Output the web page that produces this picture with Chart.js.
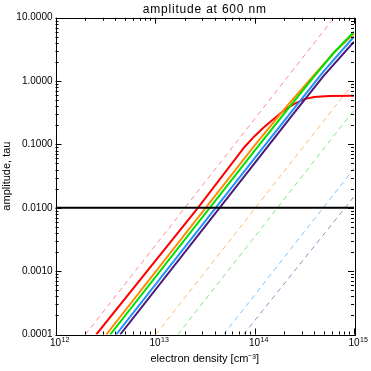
<!DOCTYPE html>
<html>
<head>
<meta charset="utf-8">
<title>amplitude at 600 nm</title>
<script src="https://cdn.jsdelivr.net/npm/chart.js@4"></script>
<style>
    html, body { margin: 0; padding: 0; background: #fff; }
    #wrap { width: 371px; height: 371px; position: relative; }
</style>
</head>
<body>
<div id="wrap"><canvas id="ampChart"></canvas></div>
<script>
    // values: electron density [cm^-3] and amplitude tau
    const redN      = [2.57e12, 2.7e13, 7.94e13, 1e14, 1.26e14, 1.58e14, 2.0e14, 2.51e14, 3.16e14, 3.98e14, 5.62e14, 1e15];
    const redTau    = [1e-4, 1e-2, 0.0912, 0.135, 0.19, 0.257, 0.347, 0.437, 0.519, 0.562, 0.582, 0.589];
    const orangeN   = [3.24e12, 1e14, 2.19e14, 4e14, 6.3e14, 1e15];
    const orangeTau = [1e-4, 0.0955, 0.427, 1.26, 2.82, 5.6];
    const greenN    = [3.55e12, 1e14, 2.19e14, 4e14, 6.3e14, 1e15];
    const greenTau  = [1e-4, 0.0794, 0.372, 1.2, 2.82, 6.0];
    const blueN     = [4.07e12, 1e14, 2.5e14, 5e14, 1e15];
    const blueTau   = [1e-4, 0.0603, 0.372, 1.45, 5.0];
    const purpleN   = [4.47e12, 1e14, 2.5e14, 5e14, 1e15];
    const purpleTau = [1e-4, 0.0501, 0.316, 1.23, 4.17];

    // dashed (optically thin) curves
    const pinkDashN     = [2.0e12, 6.3e14];
    const pinkDashTau   = [1e-4, 10];
    const orangeDashN   = [1.02e13, 1e15];
    const orangeDashTau = [1e-4, 0.955];
    const greenDashN    = [1.70e13, 1e15];
    const greenDashTau  = [1e-4, 0.347];
    const blueDashN     = [4.9e13, 1e15];
    const blueDashTau   = [1e-4, 0.0417];
    const purpleDashN   = [7.76e13, 1e15];
    const purpleDashTau = [1e-4, 0.015];

    const limitN   = [1e12, 1e15];
    const limitTau = [0.01, 0.01];

    const xTicks = [1e12, 1e13, 1e14, 1e15];
    const yTicks = [1e-4, 1e-3, 1e-2, 1e-1, 1, 10];

    const FONT = "'Liberation Sans', Arial, sans-serif";
    const SUP = {'0':'⁰','1':'¹','2':'²','3':'³','4':'⁴','5':'⁵','6':'⁶','7':'⁷','8':'⁸','9':'⁹','-':'⁻'};
    function sup(s) { return String(s).split('').map(c => SUP[c] || c).join(''); }

    function pts(xs, ys) { return xs.map((v, i) => ({x: v, y: ys[i]})); }

    function line(xs, ys, color, width, dash, idx) {
        return {
            data: pts(xs, ys),
            borderColor: color,
            borderWidth: width,
            borderDash: dash || [],
            pointRadius: 0,
            tension: 0,
            fill: false,
            order: -idx
        };
    }

    // frame, inward ticks on all four sides, title and the 10^n labels
    const frameTicks = {
        id: 'frameTicks',
        afterDatasetsDraw(chart) {
            const {ctx, chartArea: a, scales: {x, y}} = chart;
            ctx.save();
            ctx.strokeStyle = '#000';
            ctx.lineWidth = 1;
            ctx.beginPath();
            for (let e = 12; e <= 15; e++) {
                for (let m = 1; m < 10; m++) {
                    const v = m * Math.pow(10, e);
                    if (v > 1e15) break;
                    const px = Math.round(x.getPixelForValue(v)) + 0.5;
                    const len = m === 1 ? 6 : 3;
                    ctx.moveTo(px, a.bottom); ctx.lineTo(px, a.bottom - len);
                    ctx.moveTo(px, a.top); ctx.lineTo(px, a.top + len);
                }
            }
            for (let e = -4; e <= 1; e++) {
                for (let m = 1; m < 10; m++) {
                    const v = m * Math.pow(10, e);
                    if (v > 10) break;
                    const py = Math.round(y.getPixelForValue(v)) + 0.5;
                    const len = m === 1 ? 6 : 3;
                    ctx.moveTo(a.left, py); ctx.lineTo(a.left + len, py);
                    ctx.moveTo(a.right, py); ctx.lineTo(a.right - len, py);
                }
            }
            ctx.stroke();
            ctx.strokeRect(Math.round(a.left) + 0.5, Math.round(a.top) + 0.5,
                Math.round(a.right - a.left), Math.round(a.bottom - a.top));

            // x tick labels as 10 with a raised exponent
            ctx.fillStyle = '#000';
            ctx.textBaseline = 'alphabetic';
            xTicks.forEach(v => {
                const px = x.getPixelForValue(v);
                ctx.font = '10px ' + FONT;
                ctx.textAlign = 'center';
                ctx.fillText('10', px, a.bottom + 11);
                const w = ctx.measureText('10').width;
                ctx.font = '7px ' + FONT;
                ctx.textAlign = 'left';
                ctx.fillText(String(Math.round(Math.log10(v))), px + w / 2 + 0.5, a.bottom + 7.5);
            });

            // title centred over the plot
            ctx.font = '12px ' + FONT;
            ctx.textAlign = 'center';
            ctx.textBaseline = 'middle';
            ctx.letterSpacing = '0.8px';
            ctx.fillText('amplitude at 600 nm', (a.left + a.right) / 2, 9.5);
            ctx.restore();
        }
    };

    const ctx = document.getElementById('ampChart').getContext('2d');
    new Chart(ctx, {
        type: 'line',
        data: {
            datasets: [
                line(pinkDashN, pinkDashTau, '#ff8c8c', 1, [5, 4], 0),
                line(orangeDashN, orangeDashTau, '#ffb870', 1, [5, 4], 1),
                line(greenDashN, greenDashTau, '#7ee67e', 1, [5, 4], 2),
                line(blueDashN, blueDashTau, '#7cc4ff', 1, [5, 4], 3),
                line(purpleDashN, purpleDashTau, '#a884c4', 1, [5, 4], 4),
                line(redN, redTau, '#ff0000', 2, null, 5),
                line(orangeN, orangeTau, '#ff8c00', 2, null, 6),
                line(greenN, greenTau, '#00e000', 2, null, 7),
                line(blueN, blueTau, '#1e90ff', 2, null, 8),
                line(purpleN, purpleTau, '#4b1a7a', 2, null, 9),
                line(limitN, limitTau, '#000000', 2, null, 10)
            ]
        },
        options: {
            responsive: true,
            maintainAspectRatio: false,
            animation: false,
            layout: { padding: { left: 0, right: 17, top: 17.7, bottom: 0 } },
            plugins: {
                legend: { display: false },
                tooltip: { enabled: false },
                title: { display: false }
            },
            scales: {
                x: {
                    type: 'logarithmic',
                    min: 1e12,
                    max: 1e15,
                    grid: { display: false, drawTicks: false },
                    border: { display: false },
                    afterBuildTicks: s => { s.ticks = xTicks.map(v => ({value: v})); },
                    afterFit: s => { s.height = 36.5; },
                    ticks: { display: false },
                    title: {
                        display: true,
                        text: 'electron density [cm' + sup('-3') + ']',
                        color: '#000',
                        font: { family: FONT, size: 11 },
                        padding: { top: 0, bottom: 5 }
                    }
                },
                y: {
                    type: 'logarithmic',
                    min: 1e-4,
                    max: 10,
                    grid: { display: false, drawTicks: false },
                    border: { display: false },
                    afterBuildTicks: s => { s.ticks = yTicks.map(v => ({value: v})); },
                    afterFit: s => { s.width = 55.5; },
                    ticks: {
                        autoSkip: false,
                        padding: 3,
                        color: '#000',
                        font: { family: FONT, size: 10 },
                        callback: v => Number(v).toFixed(4)
                    },
                    title: {
                        display: true,
                        text: 'amplitude, tau',
                        color: '#000',
                        font: { family: FONT, size: 11 },
                        padding: { top: 0, bottom: 0 }
                    }
                }
            }
        },
        plugins: [frameTicks]
    });
</script>
</body>
</html>
